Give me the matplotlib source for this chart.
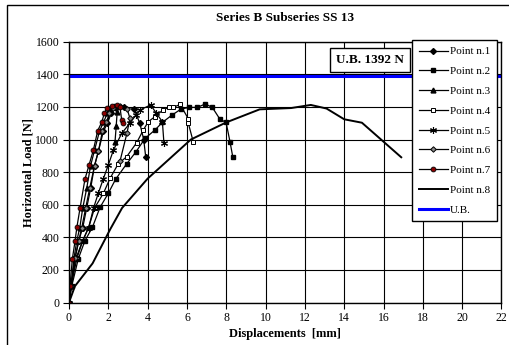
import matplotlib
matplotlib.use('Agg')
from matplotlib import pyplot as plt
from matplotlib.patches import Rectangle

plt.rcParams['font.family'] = ['Liberation Serif', 'DejaVu Serif']

# displacement [mm] / horizontal load [N]
p1_x = [0, 0.1, 0.3, 0.5, 0.7, 0.9, 1.1, 1.3, 1.5, 1.75, 1.95, 2.15, 2.4, 2.8, 3.3, 3.6, 3.8, 3.9]
p1_y = [0, 100, 270, 380, 460, 580, 700, 840, 930, 1050, 1100, 1160, 1195, 1200, 1190, 1100, 1000, 895]

p2_x = [0, 0.14, 0.47, 0.81, 1.19, 1.58, 2.0, 2.37, 2.93, 3.41, 3.87, 4.37, 4.75, 5.22, 5.7, 6.12,
        6.53, 6.93, 7.29, 7.68, 7.99, 8.19, 8.33]
p2_y = [0, 101, 267, 379, 461, 584, 670, 756, 850, 925, 1007, 1058, 1105, 1148, 1187, 1197,
        1197, 1218, 1197, 1124, 1105, 986, 894]

p3_x = [0, 0.1, 0.25, 0.4, 0.55, 0.7, 0.9, 1.1, 1.3, 1.55, 1.75, 1.95, 2.1, 2.3, 2.45, 2.4, 2.34]
p3_y = [0, 100, 270, 380, 460, 580, 700, 840, 935, 1050, 1105, 1160, 1195, 1205, 1170, 1080, 985]

p4_x = [0, 0.1, 0.4, 0.7, 1.0, 1.3, 1.75, 2.09, 2.5, 2.93, 3.44, 3.78, 4.03, 4.37, 4.8, 5.1, 5.3,
        5.65, 6.07, 6.07, 6.32]
p4_y = [0, 100, 270, 380, 460, 580, 670, 762, 850, 894, 980, 1058, 1109, 1140, 1183, 1197, 1197,
        1215, 1127, 1100, 986]

p5_x = [0, 0.1, 0.35, 0.7, 1.0, 1.25, 1.49, 1.75, 2.0, 2.26, 2.68, 3.1, 3.4, 3.61, 4.15, 4.45, 4.75, 4.83]
p5_y = [0, 100, 270, 380, 460, 580, 670, 760, 844, 935, 1038, 1100, 1150, 1181, 1212, 1160, 1109, 977]

p6_x = [0, 0.12, 0.3, 0.5, 0.65, 0.85, 1.05, 1.3, 1.5, 1.7, 1.9, 2.05, 2.25, 2.6, 2.95, 3.1, 2.95, 2.6]
p6_y = [0, 100, 270, 380, 460, 580, 700, 840, 930, 1050, 1105, 1160, 1195, 1205, 1190, 1130, 1040, 870]

p7_x = [0, 0.05, 0.17, 0.31, 0.4, 0.56, 0.81, 1.02, 1.24, 1.46, 1.66, 1.8, 1.92, 2.17, 2.43, 2.59, 2.68, 2.77]
p7_y = [0, 101, 267, 379, 461, 578, 756, 844, 935, 1054, 1105, 1161, 1191, 1205, 1212, 1201, 1120, 1100]

p8_x = [0, 0.3, 1.2, 2.1, 2.7, 4.0, 6.2, 8.0, 9.7, 11.3, 12.3, 13.1, 14.0, 14.9, 15.9, 16.9]
p8_y = [0, 100, 240, 450, 580, 760, 1000, 1105, 1185, 1193, 1212, 1190, 1124, 1103, 997, 891]

ub = 1392

fig = plt.figure(figsize=(5.1, 3.45), dpi=100)
ax = fig.add_axes([69 / 510, 1 - 302.5 / 345, (501.5 - 69) / 510, (302.5 - 41.7) / 345])

# outer chart border
fig.patches.append(Rectangle((7 / 510, -0.1), 1.1, 1 - 5 / 345 + 0.1, transform=fig.transFigure,
                             fill=False, edgecolor='black', linewidth=1.0))

ms = 3.5
lw = 0.9
ax.plot(p1_x, p1_y, color='black', lw=lw, marker='D', ms=3, mfc='black', label='Point n.1')
ax.plot(p2_x, p2_y, color='black', lw=lw, marker='s', ms=ms, mfc='black', label='Point n.2')
ax.plot(p3_x, p3_y, color='black', lw=lw, marker='^', ms=ms, mfc='black', label='Point n.3')
ax.plot(p4_x, p4_y, color='black', lw=lw, marker='s', ms=ms, mfc='white', mew=0.7, label='Point n.4')
ax.plot(p5_x, p5_y, color='black', lw=lw, marker=(6, 2, 0), ms=5, mew=0.8, label='Point n.5')
ax.plot(p6_x, p6_y, color='black', lw=lw, marker='D', ms=2.8, mfc='#888888', mew=0.7, label='Point n.6')
ax.plot(p7_x, p7_y, color='black', lw=lw, marker='o', ms=3.5, mfc='#8b0000', mec='black', mew=0.6,
        label='Point n.7')
ax.plot(p8_x, p8_y, color='black', lw=1.4, label='Point n.8')
ax.axhline(ub, color='#0000ff', lw=2.2, label='U.B.')

ax.set_xlim(0, 22)
ax.set_ylim(0, 1600)
ax.set_xticks(range(0, 23, 2))
ax.set_yticks(range(0, 1601, 200))
ax.grid(True, color='black', lw=0.8)
ax.set_axisbelow(True)
ax.tick_params(direction='out', length=4, width=0.8, labelsize=8.5, pad=3)
for s in ax.spines.values():
    s.set_linewidth(1.0)

ax.set_title('Series B Subseries SS 13', fontsize=9.5, fontweight='bold', y=1.0, pad=15)
ax.set_xlabel('Displacements  [mm]', fontsize=9, fontweight='bold', labelpad=3)
ax.set_ylabel('Horizontal Load [N]', fontsize=9, fontweight='bold', labelpad=1)

ax.text(370 / 510, 1 - 60 / 345, 'U.B. 1392 N', transform=fig.transFigure, ha='center', va='center',
        fontsize=9.5, fontweight='bold',
        bbox=dict(boxstyle='square,pad=0.45', facecolor='white', edgecolor='black', linewidth=1.0))

leg = ax.legend(loc='upper right', bbox_to_anchor=(497 / 510, 1 - 40 / 345),
                bbox_transform=fig.transFigure, fontsize=8, frameon=True, fancybox=False,
                edgecolor='black', framealpha=1, handlelength=2.6, labelspacing=0.9,
                borderpad=0.6, handletextpad=0.2, borderaxespad=0)
leg.get_frame().set_linewidth(1.0)

fig.savefig('out.png', dpi=100)
